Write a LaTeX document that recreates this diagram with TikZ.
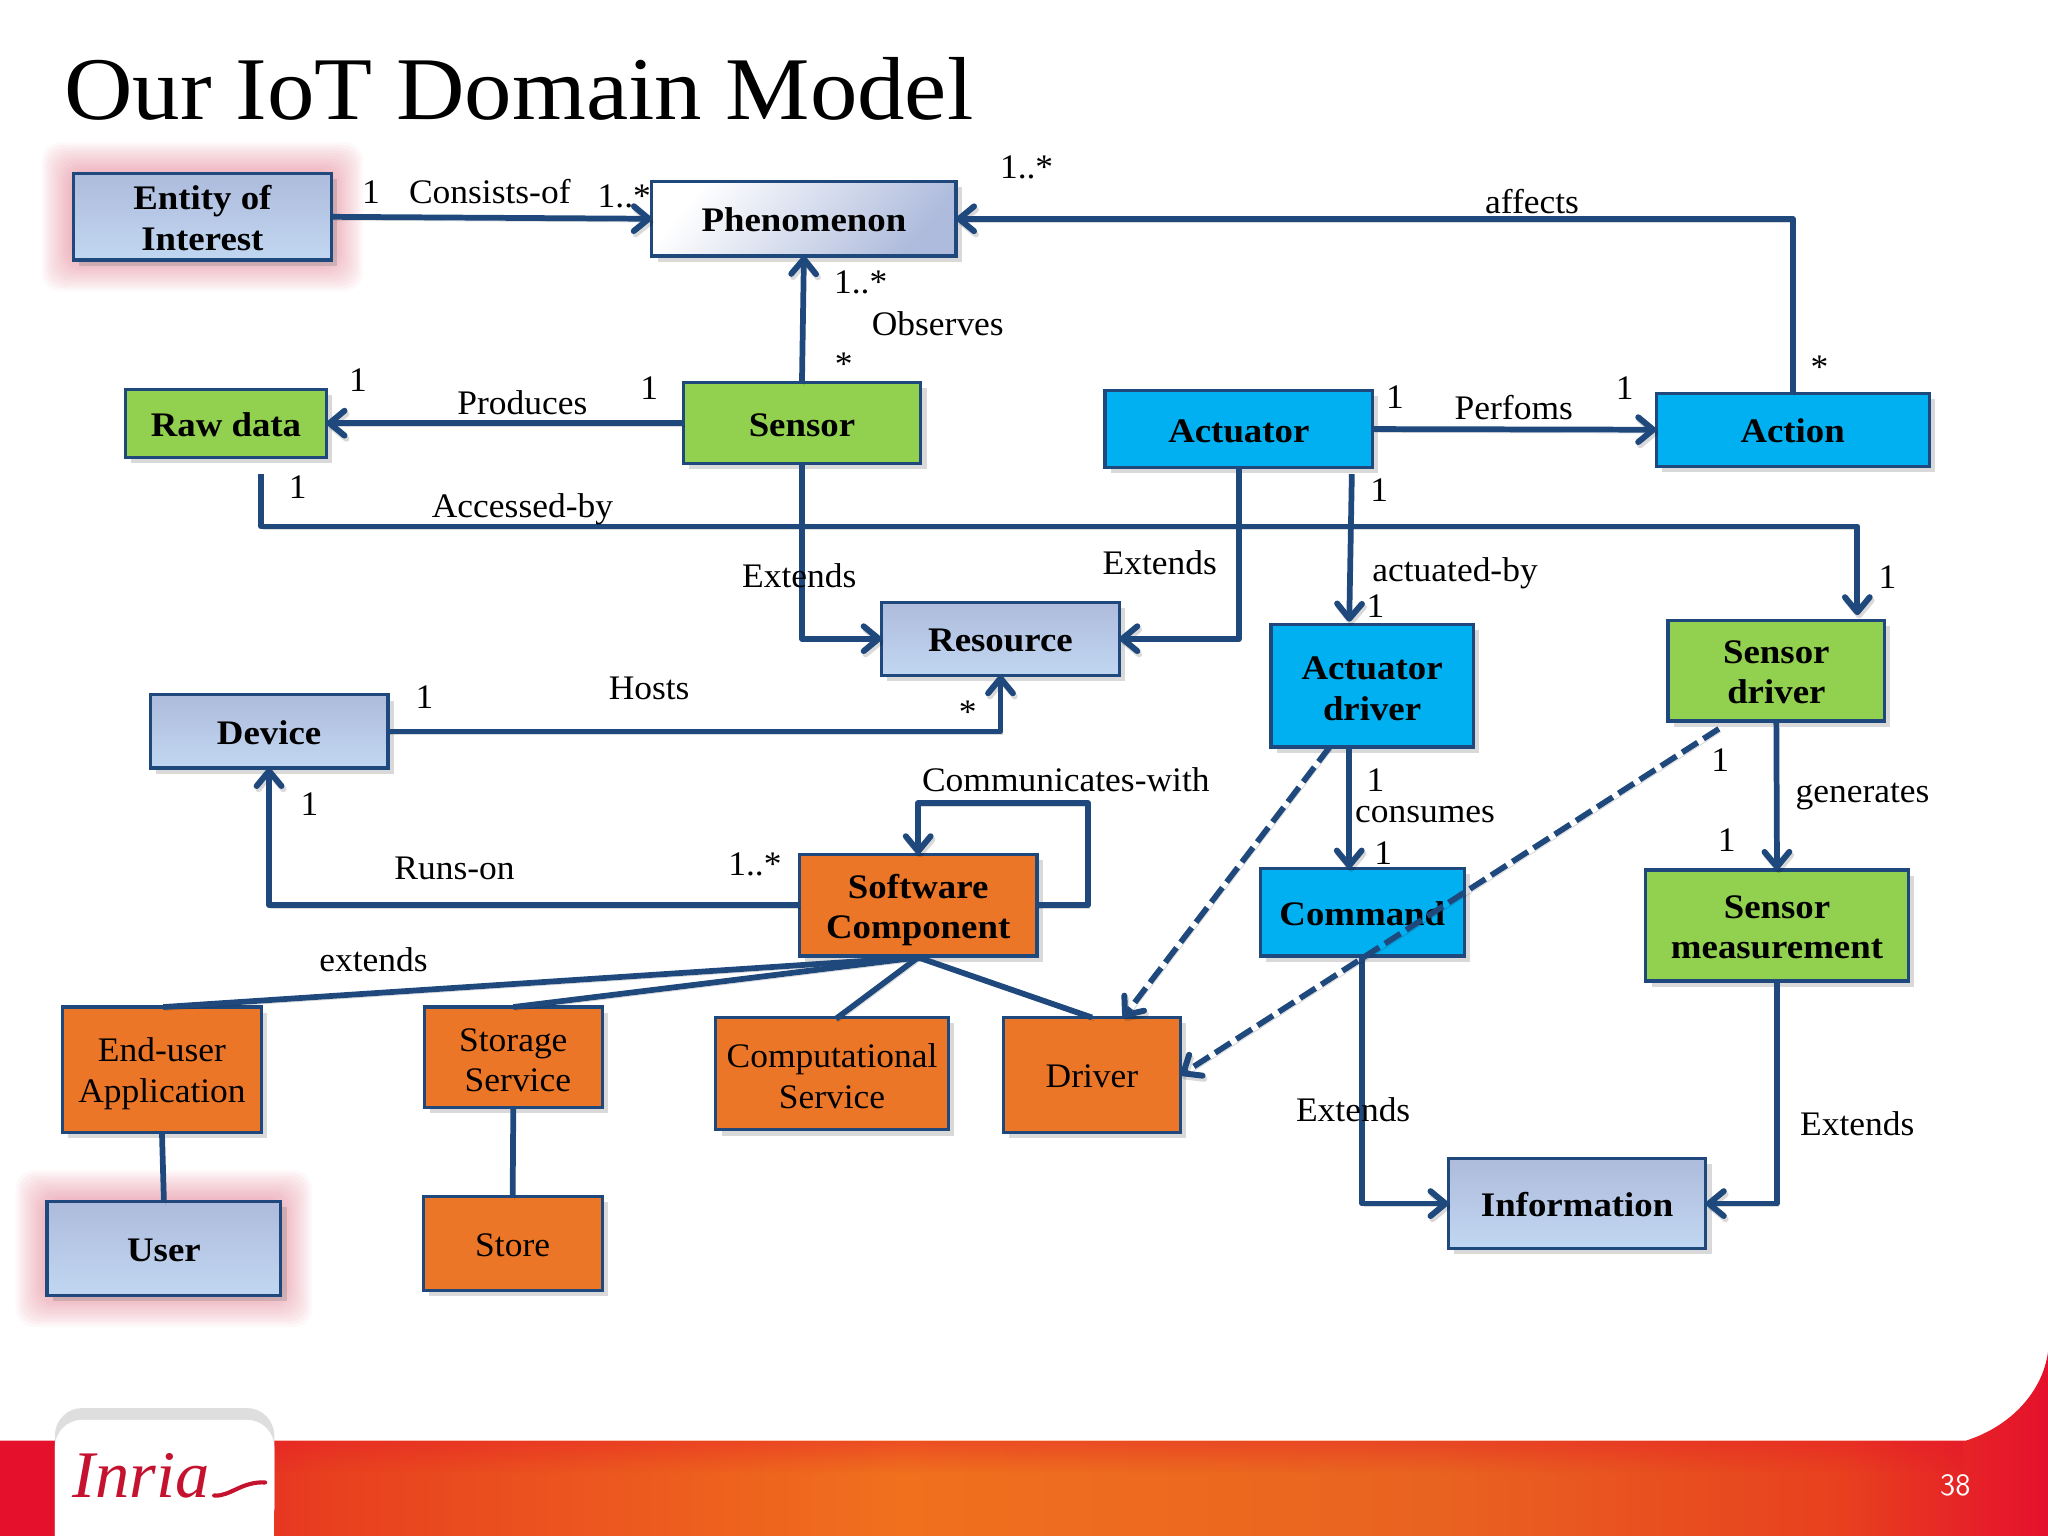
\documentclass[tikz,border=0pt]{standalone}
\usepackage{fontspec}
\setmainfont{Liberation Serif}[FakeStretch=1.03,BoldFeatures={FakeStretch=1.07}]
\newfontfamily\titlefont{Liberation Serif}[FakeStretch=1.06]
\usetikzlibrary{arrows.meta,shadows,backgrounds,fadings}

\definecolor{linkblue}{HTML}{1F497D}
\definecolor{topblue}{HTML}{AEBBDC}
\definecolor{lowblue}{HTML}{C1D7F1}
\definecolor{boxgreen}{HTML}{92D050}
\definecolor{boxcyan}{HTML}{00B0F0}
\definecolor{boxorange}{HTML}{EB7627}
\definecolor{glowred}{HTML}{D9536B}
\definecolor{bandred}{HTML}{E5102C}
\definecolor{bandmid}{HTML}{E8401F}
\definecolor{bandorange}{HTML}{F0701E}
\definecolor{bandright}{HTML}{E96320}
\definecolor{logored}{HTML}{C4122F}

\pgfdeclarehorizontalshading{bandshade}{100bp}{color(0bp)=(bandred); color(27bp)=(bandred);
  color(33bp)=(bandmid); color(47bp)=(bandorange); color(60bp)=(bandright);
  color(70bp)=(bandmid); color(75bp)=(bandred); color(100bp)=(bandred)}

% first line of a two line box, pushed down a little
\newcommand{\lift}[1]{\rule{0pt}{#1}}

\tikzset{
  box/.style={draw=linkblue,line width=1.4pt,inner sep=0pt,outer sep=0pt,align=center,
    font=\fontsize{15}{17.8}\selectfont\bfseries,
    execute at begin node={\rule{0pt}{11.5pt}},
    drop shadow={shadow xshift=2.5pt,shadow yshift=-2.5pt,opacity=0.3}},
  plainbox/.style={box,font=\fontsize{15}{17.8}\selectfont},
  bluebox/.style={top color=topblue,bottom color=lowblue},
  greenbox/.style={fill=boxgreen},
  cyanbox/.style={fill=boxcyan},
  orangebox/.style={fill=boxorange},
  linkshadow/.style={preaction={draw=black,draw opacity=0.15,transform canvas={shift={(0.8pt,-1.4pt)}}}},
  link/.style={linkshadow,draw=linkblue,line width=2.5pt,line join=round,
    -{Straight Barb[length=2.3mm,width=3.8mm,line width=2.6pt,round]}},
  noarrow/.style={linkshadow,draw=linkblue,line width=2.5pt},
  dashlink/.style={link,dash pattern=on 8pt off 3pt},
  lbl/.style={inner sep=0pt,font=\fontsize{15}{17.8}\selectfont}
}

\begin{document}
\begin{tikzpicture}[x=0.02cm,y=-0.02cm]
  \useasboundingbox (0,0) rectangle (1568,1176);

  % footer
  \shade[shading=bandshade]
    (0,1103) -- (1505,1103) .. controls (1540,1092) and (1564,1065) .. (1568,1035)
    -- (1568,1176) -- (0,1176) -- cycle;
  \fill[bandred,opacity=0.35,path fading=south] (0,1103) rectangle (1505,1128);
  \fill[black!13,rounded corners=12pt] (42,1176) -- (42,1078) -- (210,1078) -- (210,1176) [sharp corners] -- cycle;
  \fill[white,rounded corners=12pt] (42,1176) -- (42,1087) -- (210,1087) -- (210,1176) [sharp corners] -- cycle;
  \fill[white] (42,1120) rectangle (210,1176);
  \node[inner sep=0pt,text=logored,font=\fontsize{29}{30}\selectfont\itshape] (logo) at (108,1130) {Inria};
  \draw[logored,line width=1.8pt,line cap=round] (164,1145)
    .. controls (176,1146) and (185,1134) .. (203,1135);
  \node[inner sep=0pt,text=white,font=\fontsize{13.5}{14}\selectfont\sffamily] (pageno) at (1497,1137) {38};

  \node[anchor=west,inner sep=0pt,font=\fontsize{39}{44}\selectfont\titlefont] (title) at (49,68) {Our IoT Domain Model};

  % nodes
  \node[box,bluebox,minimum width=3.96cm,minimum height=1.32cm] (entity) at (155,166) {\lift{11.3pt}Entity of\\Interest};
  \node[box,left color=white,right color=topblue,shading angle=50,minimum width=4.66cm,minimum height=1.14cm] (phenomenon) at (615.5,167.5) {Phenomenon};
  \node[box,greenbox,minimum width=3.08cm,minimum height=1.04cm] (rawdata) at (173,324) {Raw data};
  \node[box,greenbox,minimum width=3.64cm,minimum height=1.24cm] (sensor) at (614,324) {Sensor};
  \node[box,cyanbox,minimum width=4.1cm,minimum height=1.18cm] (actuator) at (948.5,328.5) {Actuator};
  \node[box,cyanbox,minimum width=4.18cm,minimum height=1.12cm] (action) at (1372.5,329) {Action};
  \node[box,bluebox,minimum width=3.64cm,minimum height=1.12cm] (resource) at (766,489) {Resource};
  \node[box,cyanbox,minimum width=3.1cm,minimum height=1.88cm] (actdriver) at (1050.5,525) {\lift{12.5pt}Actuator\\driver};
  \node[box,greenbox,minimum width=3.32cm,minimum height=1.54cm] (sensdriver) at (1360,513.5) {\lift{11.3pt}Sensor\\driver};
  \node[box,bluebox,minimum width=3.64cm,minimum height=1.12cm] (device) at (206,560) {Device};
  \node[box,orangebox,minimum width=3.64cm,minimum height=1.56cm] (software) at (703,693) {\lift{14.8pt}Software\\Component};
  \node[box,cyanbox,minimum width=3.12cm,minimum height=1.34cm] (command) at (1043,698.5) {Command};
  \node[box,greenbox,minimum width=4.02cm,minimum height=1.7cm] (measurement) at (1360.5,708.5) {\lift{11.6pt}Sensor\\measurement};
  \node[plainbox,orangebox,minimum width=3.04cm,minimum height=1.92cm] (enduser) at (124,819) {\lift{13.6pt}End-user\\Application};
  \node[plainbox,orangebox,minimum width=2.72cm,minimum height=1.54cm] (storage) at (393,809.5) {\lift{12.5pt}Storage\\\hspace*{4pt}Service};
  \node[plainbox,orangebox,minimum width=3.56cm,minimum height=1.72cm] (computational) at (637,822) {\lift{12.5pt}Computational\\Service};
  \node[plainbox,orangebox,minimum width=2.72cm,minimum height=1.76cm] (driver) at (836,823) {Driver};
  \node[box,bluebox,minimum width=3.94cm,minimum height=1.38cm] (information) at (1207.5,921.5) {Information};
  \node[box,bluebox,minimum width=3.58cm,minimum height=1.44cm] (user) at (125.5,956) {User};
  \node[plainbox,orangebox,minimum width=2.74cm,minimum height=1.44cm] (store) at (392.5,952) {Store};

  % red glow round the two outer concepts
  \begin{scope}[on background layer]
    \foreach \g in {2,4,...,24} {
      \fill[glowred,opacity=0.045,rounded corners=8pt] ([xshift=-\g*0.02cm,yshift=\g*0.02cm]entity.north west) rectangle ([xshift=\g*0.02cm,yshift=-\g*0.02cm]entity.south east);
      \fill[glowred,opacity=0.045,rounded corners=8pt] ([xshift=-\g*0.02cm,yshift=\g*0.02cm]user.north west) rectangle ([xshift=\g*0.02cm,yshift=-\g*0.02cm]user.south east);
    }
  \end{scope}

  % free ends
  \coordinate (accessfrom) at (200,363);
  \coordinate (accesscorner) at (1422,403);
  \coordinate (accessto) at (1422,471);
  \coordinate (loopcorner) at (833,615);
  \coordinate (perfromact) at (1035,363);
  \coordinate (actarrow) at (1033,476);
  \coordinate (consfrom) at (1033,572);
  \coordinate (consto) at (1033,665);
  \coordinate (dashone) at (1018,572);
  \coordinate (dashonend) at (860,779);
  \coordinate (dashtwo) at (1316,558);
  \coordinate (softbottom) at (703,733);
  \coordinate (enduserleft) at (125,771);
  \coordinate (computtop) at (640,780);

  % connectors
  \draw[link] (entity.east) -- (phenomenon.west);
  \draw[link] (action.north) |- (phenomenon.east);
  \draw[link] (sensor.north) -- (phenomenon.south);
  \draw[link] (sensor.west) -- (rawdata.east);
  \draw[link] (actuator.east) -- (action.west);
  \draw[link] (accessfrom) |- (accesscorner) -- (accessto);
  \draw[link] (sensor.south) |- (resource.west);
  \draw[link] (actuator.south) |- (resource.east);
  \draw[link] (perfromact) -- (actarrow);
  \draw[link] (consfrom) -- (consto);
  \draw[link] (sensdriver.south) -- (measurement.north);
  \draw[link] (device.east) -| (resource.south);
  \draw[link] (software.west) -| (device.south);
  \draw[link] (software.east) -| (loopcorner) -| (software.north);
  \draw[link] (command.south) |- (information.west);
  \draw[link] (measurement.south) |- (information.east);
  \draw[noarrow] (softbottom) -- (enduserleft);
  \draw[noarrow] (softbottom) -- (storage.north);
  \draw[noarrow] (softbottom) -- (computtop);
  \draw[noarrow] (softbottom) -- (driver.north);
  \draw[noarrow] (enduser.south) -- (user.north);
  \draw[noarrow] (storage.south) -- (store.north);
  \draw[dashlink] (dashone) -- (dashonend);
  \draw[dashlink] (dashtwo) -- (driver.east);

  % labels
  \node[lbl] (l1) at (284,147) {1};
  \node[lbl] (l2) at (375,147) {Consists-of};
  \node[lbl] (l3) at (478,150) {1..*};
  \node[lbl] (l4) at (786,128) {1..*};
  \node[lbl] (l5) at (1173,154) {affects};
  \node[lbl] (l6) at (659,216) {1..*};
  \node[lbl] (l7) at (718,248) {Observes};
  \node[lbl] (l8) at (646,279) {*};
  \node[lbl] (l9) at (274,291) {1};
  \node[lbl] (l10) at (400,308) {Produces};
  \node[lbl] (l11) at (497,297) {1};
  \node[lbl] (l12) at (1068,304) {1};
  \node[lbl] (l13) at (1159,312) {Perfoms};
  \node[lbl] (l14) at (1244,297) {1};
  \node[lbl] (l15) at (1393,281) {*};
  \node[lbl] (l16) at (228,373) {1};
  \node[lbl] (l17) at (400,390) {Accessed-by};
  \node[lbl] (l18) at (1056,375) {1};
  \node[lbl] (l19) at (612,441) {Extends};
  \node[lbl] (l20) at (888,431) {Extends};
  \node[lbl] (l21) at (1114,439) {actuated-by};
  \node[lbl] (l22) at (1053,464) {1};
  \node[lbl] (l23) at (1445,442) {1};
  \node[lbl] (l24) at (497,527) {Hosts};
  \node[lbl] (l25) at (325,534) {1};
  \node[lbl] (l26) at (741,545) {*};
  \node[lbl] (l27) at (816,597) {Communicates-with};
  \node[lbl] (l28) at (1053,597) {1};
  \node[lbl] (l29) at (1317,582) {1};
  \node[lbl] (l30) at (1426,610) {generates};
  \node[lbl] (l31) at (1091,624) {consumes};
  \node[lbl] (l32) at (237,616) {1};
  \node[lbl] (l33) at (1322,643) {1};
  \node[lbl] (l34) at (1059,653) {1};
  \node[lbl] (l35) at (348,665) {Runs-on};
  \node[lbl] (l36) at (578,662) {1..*};
  \node[lbl] (l37) at (286,735) {extends};
  \node[lbl] (l38) at (1036,850) {Extends};
  \node[lbl] (l39) at (1422,860) {Extends};
\end{tikzpicture}
\end{document}
